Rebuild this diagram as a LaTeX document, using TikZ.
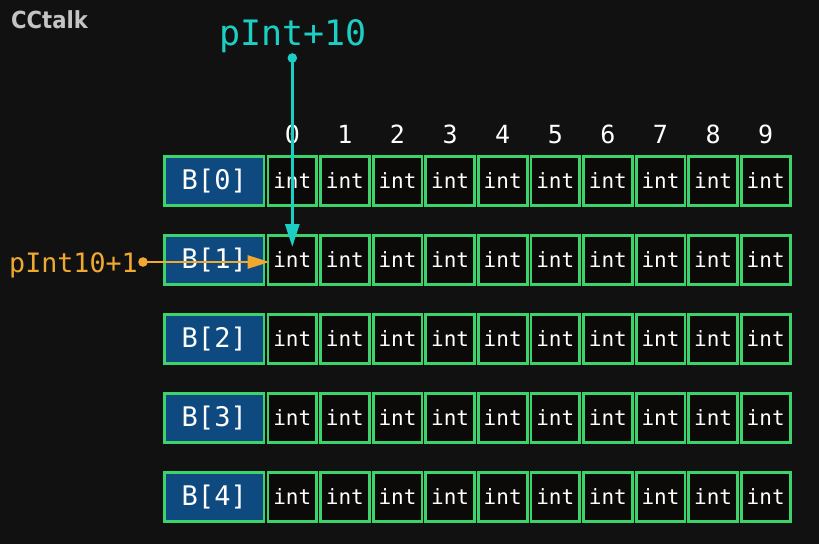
\documentclass[tikz,border=0pt]{standalone}
\usepackage{fontspec}
\setmainfont{DejaVu Sans}
\newfontfamily\codefont{DejaVu Sans Mono}
\newfontfamily\logofont{DejaVu Sans Condensed}
\usetikzlibrary{positioning,arrows.meta}
\definecolor{bgdark}{HTML}{111111}
\definecolor{cellgreen}{HTML}{3DD36B}
\definecolor{cellfill}{HTML}{0B0A09}
\definecolor{indexblue}{HTML}{0E4A80}
\definecolor{ptrcyan}{HTML}{1CCFC5}
\definecolor{ptrorange}{HTML}{F0A830}
\definecolor{logogray}{HTML}{C4C4C4}
\tikzset{
    cell/.style={
        draw=cellgreen,
        line width=2.8pt,
        fill=cellfill,
        minimum width=48.8pt,
        minimum height=49pt,
        inner sep=0pt,
        text=white,
        font=\codefont\fontsize{21}{21}\selectfont
    },
    rowhead/.style={
        cell,
        fill=indexblue,
        minimum width=99.5pt,
        font=\codefont\fontsize{27}{27}\selectfont
    },
    colnum/.style={
        inner sep=0pt,
        text=white,
        font=\codefont\fontsize{25}{25}\selectfont
    },
    cyanptr/.style={
        draw=ptrcyan,
        line width=3pt,
        -{Triangle[length=23pt,width=14pt]}
    },
    orangeptr/.style={
        draw=ptrorange,
        line width=2.8pt,
        -{Triangle[length=22pt,width=13pt]}
    }
}

\begin{document}
\begin{tikzpicture}[x=1pt,y=1pt]
    \fill[bgdark] (0,0) rectangle (819,-544);
    \useasboundingbox (0,0) rectangle (819,-544);

    \node[anchor=north west, inner sep=0pt, text=logogray,
          font=\logofont\bfseries\fontsize{23.5}{23.5}\selectfont] (logo) at (11,-10) {CCtalk};

    % rows of the array B
    \foreach \r in {0,...,4}{
        \node[rowhead] (B\r) at (214.25,-181-79*\r) {B[\r]};
        \foreach \c in {0,...,9}{
            \node[cell] (c\r\c) at (292.3+52.6*\c,-181-79*\r) {int};
        }
    }

    % column numbers
    \foreach \c in {0,...,9}{
        \node[colnum, above=11pt of c0\c] (n\c) {\c};
    }

    % pointer pInt+10
    \node[inner sep=0pt, text=ptrcyan,
          font=\codefont\fontsize{35}{35}\selectfont] (pInt) at (293,-36.5) {pInt+10};
    \coordinate (dotA) at (c10 |- 0,-58);
    \fill[ptrcyan] (dotA) circle (4.8pt);
    \draw[cyanptr] (dotA) -- ([yshift=13pt]c10.center);

    % pointer pInt10+1
    \node[inner sep=0pt, anchor=east, text=ptrorange,
          font=\codefont\fontsize{26.7}{26.7}\selectfont] (pIntB) at (138,-265.5) {pInt10+1};
    \coordinate (dotB) at (143,-262);
    \fill[ptrorange] (dotB) circle (4.8pt);
    \draw[orangeptr] (dotB) -- ([shift={(3pt,-2pt)}]c10.west);
\end{tikzpicture}
\end{document}
